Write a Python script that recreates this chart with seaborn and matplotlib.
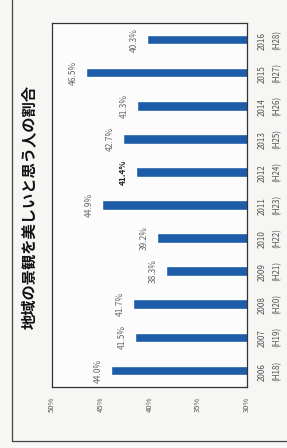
import matplotlib
matplotlib.use("Agg")
import matplotlib.pyplot as plt
import seaborn as sns
import pandas as pd
from matplotlib.lines import Line2D

sns.set_style("white")
plt.rcParams['font.family'] = ['Noto Sans CJK JP', 'DejaVu Sans']

# data
years = ["2006", "2007", "2008", "2009", "2010", "2011",
         "2012", "2013", "2014", "2015", "2016"]
heisei = ["(H18)", "(H19)", "(H20)", "(H21)", "(H22)", "(H23)",
          "(H24)", "(H25)", "(H26)", "(H27)", "(H28)"]
values = [44.0, 41.5, 41.7, 38.3, 39.2, 44.9, 41.4, 42.7, 41.3, 46.5, 40.3]
title = "地域の景観を美しいと思う人の割合"

df = pd.DataFrame({"year": years, "value": values})
order = years[::-1]

fig = plt.figure(figsize=(2.87, 4.48), dpi=100, facecolor="#f6f6f4")
ax = fig.add_axes([52 / 287, 1 - 387 / 448, 195 / 287, 364 / 448])
ax.set_facecolor("#fcfcfc")

sns.barplot(data=df, x="value", y="year", order=order, orient="h",
            color="#1d5ca8", saturation=1, width=0.29, ax=ax)

ax.set_xlim(50, 30)
ax.set_ylim(10.5, -0.5)
ax.set_xticks([50, 45, 40, 35, 30])
ax.set_xticklabels(["50%", "45%", "40%", "35%", "30%"], rotation=90,
                   fontsize=5.5, color="#555555")
ax.tick_params(axis="x", length=0, pad=7)
ax.set_yticks(range(len(order)))
ax.set_yticklabels([f"{y}\n{h}" for y, h in zip(years[::-1], heisei[::-1])],
                   rotation=90, fontsize=5.8, color="#555555",
                   va="center", linespacing=1.7)
ax.tick_params(axis="y", length=0, pad=8, labelleft=False, labelright=True)
ax.set_xlabel("")
ax.set_ylabel("")
for s in ax.spines.values():
    s.set_color("#333333")
    s.set_linewidth(0.9)

for i, y in enumerate(order):
    v = values[years.index(y)]
    bold = (y == "2012")
    ax.annotate(f"{v:.1f}%", xy=(v, i), xytext=(-9, 0),
                textcoords="offset points", rotation=90,
                ha="center", va="center", fontsize=6,
                color="#222222" if bold else "#666666",
                fontweight="bold" if bold else "normal")

fig.text(30 / 287, 1 - 207 / 448, title, rotation=90, ha="center",
         va="center", fontsize=11, fontweight="bold", color="#111111")

# outer frame of the scanned figure
fig.add_artist(Line2D([12 / 287, 12 / 287], [1.0, 1 - 441 / 448],
                      transform=fig.transFigure, color="#444444", lw=0.9))
fig.add_artist(Line2D([12 / 287, 1.0], [1 - 441 / 448, 1 - 441 / 448],
                      transform=fig.transFigure, color="#444444", lw=0.9))

fig.savefig("out.png", dpi=100, facecolor=fig.get_facecolor())
